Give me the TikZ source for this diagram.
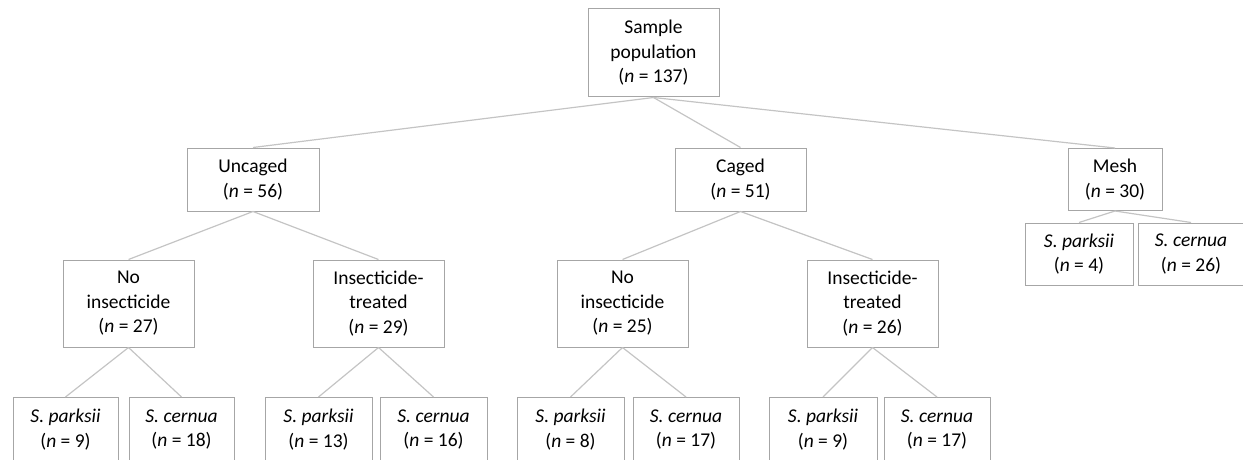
\documentclass[tikz,border=0pt]{standalone}
\usepackage{fontspec}
\setmainfont{Carlito}
\definecolor{boxgray}{HTML}{A6A6A6}
\definecolor{linkgray}{HTML}{C4C4C4}
\tikzset{
  box/.style={draw=boxgray,line width=1pt,align=center,inner sep=0pt,
    font=\fontsize{19.5}{24.5}\selectfont},
  link/.style={draw=linkgray,line width=1.2pt}
}
\newcommand{\nn}[1]{(\textit{n} = #1)}
\begin{document}
\begin{tikzpicture}[x=1pt,y=-1pt]
  \useasboundingbox (0,0) rectangle (1243,460);
  \clip (0,0) rectangle (1243,460);
  % root
  \node[box,minimum width=131,minimum height=88] (root) at (653.5,53) {Sample\\population\\\nn{137}};
  % level 1
  \node[box,minimum width=132,minimum height=63] (uncaged) at (253,179.5) {Uncaged\\\nn{56}};
  \node[box,minimum width=131,minimum height=63] (caged) at (740.5,179.5) {Caged\\\nn{51}};
  \node[box,minimum width=94,minimum height=62] (mesh) at (1115,179.5) {Mesh\\\nn{30}};
  % level 2
  \node[box,minimum width=131,minimum height=87] (noinsA) at (128.5,303.5) {No\\insecticide\\\nn{27}};
  \node[box,minimum width=131,minimum height=87] (insA) at (378.5,303.5) {Insecticide-\\treated\\\nn{29}};
  \node[box,minimum width=131,minimum height=87] (noinsB) at (622.5,303.5) {No\\insecticide\\\nn{25}};
  \node[box,minimum width=131,minimum height=87] (insB) at (872.5,303.5) {Insecticide-\\treated\\\nn{26}};
  % species under mesh
  \node[box,minimum width=108,minimum height=62] (meshP) at (1079,254) {\textit{S. parksii}\\\nn{4}};
  \node[box,minimum width=106,minimum height=62] (meshC) at (1191,254) {\textit{S. cernua}\\\nn{26}};
  % species, bottom row
  \foreach \name/\x/\w/\sp/\n in {
      parkA/65.5/105/parksii/9, cernA/181.5/105/cernua/18,
      parkB/318.5/107/parksii/13, cernB/433.5/107/cernua/16,
      parkC/570.5/107/parksii/8, cernC/686/106/cernua/17,
      parkD/823/108/parksii/9, cernD/937/106/cernua/17} {
    \node[box,minimum width=\w,minimum height=64] (\name) at (\x,429.5) {\textit{S. \sp}\\\nn{\n}};
  }
  % connectors
  \foreach \a/\b in {root/uncaged,root/caged,root/mesh,
      uncaged/noinsA,uncaged/insA,caged/noinsB,caged/insB,mesh/meshP,mesh/meshC,
      noinsA/parkA,noinsA/cernA,insA/parkB,insA/cernB,
      noinsB/parkC,noinsB/cernC,insB/parkD,insB/cernD} {
    \draw[link] (\a.south) -- (\b.north);
  }
\end{tikzpicture}
\end{document}
